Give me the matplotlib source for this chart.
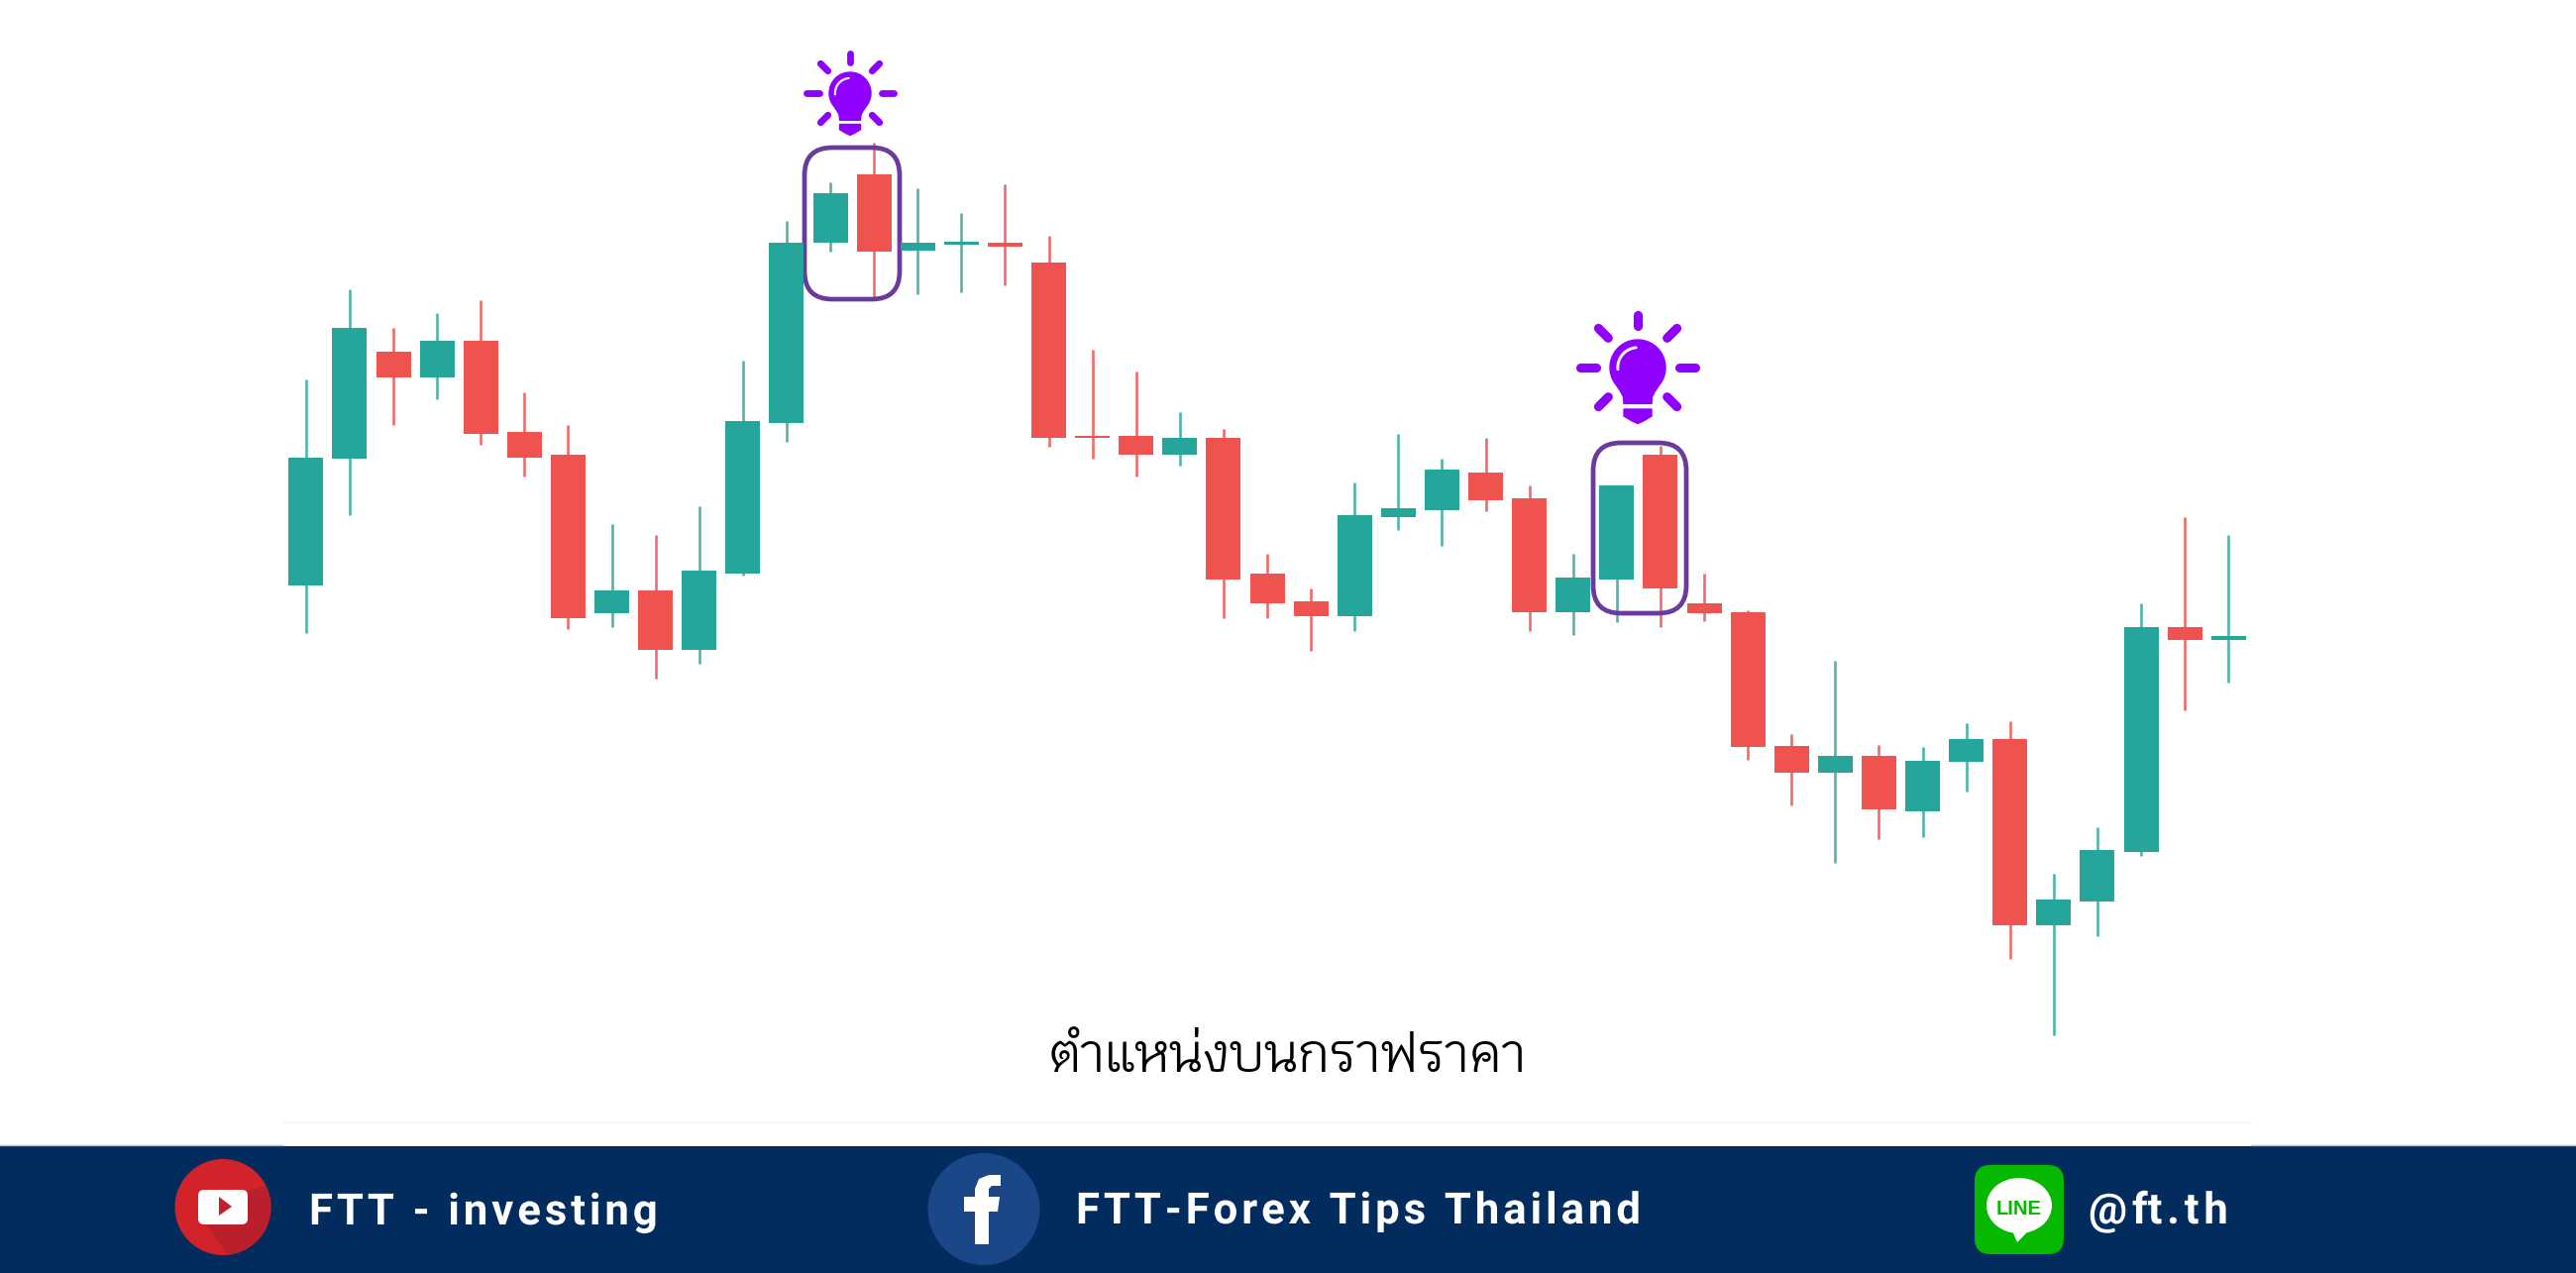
import numpy as np
import matplotlib
matplotlib.use("Agg")
import matplotlib.pyplot as plt
from matplotlib.patches import FancyBboxPatch, Circle, Ellipse, Polygon
from matplotlib.patheffects import AbstractPathEffect
from matplotlib.path import Path

H = 1285
y_body_top = [461.5,331.4,355,344.4,344.4,435.5,459,596,596,576.4,425,244.7,195,175.7,244.7,244,244.7,264.6,
              439.7,440,442,442,578.7,606.7,520,513,474,477,503,583,490,459,609,618,752.5,763,763,767.5,745.7,
              745.7,908,858,633,633,642]
y_body_low = [591,463,381,381,437.6,461.5,624,619,656,656,578.6,427,244.7,253.8,253,247,249,442,
              442.3,459,459,585,609,622,622,522,515,505,618,618,585,594,619,753.6,780,780,817,818.6,769,
              933.6,933.6,909.6,860,645.7,645.7]
y_high = [383.4,292,331,316,303,396.4,429,529,539.5,511,364,223,184,143.6,190,215,186,238,
          353,375,416,433,559,594,487,438,463,442,490,559,490,450,579,616,741,667,752,754,730,
          728,882,834.6,609,522,540]
y_low = [639,520,429,403,448.5,481,635,633,685,670,581,446,254,303,297,294.5,288,450.6,
         463,481,470,624,624,657,637,535,551,516,637,641,628,633,627,767,812.5,871,847,845,799,
         968,1044.6,944.6,864,717,688.6]
direction = ["U","U","D","U","D","D","D","U","D","U","U","U","U","D","U","U","D","D",
             "D","D","U","D","D","D","U","U","U","D","D","U","U","D","D","D","D","U","D","U","U",
             "D","U","U","U","D","U"]
caption = "ตำแหน่งบนกราฟราคา"
labels = ["FTT - investing", "FTT-Forex Tips Thailand", "@ft.th"]

GREEN, RED = "#26A69A", "#EF5350"
NAVY = "#022B5E"

fig = plt.figure(figsize=(26, 12.85), dpi=100, facecolor="white")
ax = fig.add_axes([0, 0, 1, 1])          # pixel-like overlay
ax.set_xlim(0, 2600); ax.set_ylim(H, 0); ax.axis("off")
cx = fig.add_axes([0, 0, 1, 1])          # candles: index / price
cx.patch.set_alpha(0); cx.axis("off")
X0, DX = 308.8, 44.1
cx.set_xlim(-X0 / DX, (2600 - X0) / DX); cx.set_ylim(0, H)

idx = np.arange(len(y_high))
price = lambda a: H - np.asarray(a, float)
cols = [GREEN if c == "U" else RED for c in direction]
wick_cols = ["#4FB5AB" if c == "U" else "#F06C68" for c in direction]
cx.vlines(idx, price(y_low), price(y_high), colors=wick_cols, lw=1.9, zorder=3)
cx.bar(idx, price(y_body_top) - price(y_body_low), bottom=price(y_body_low), width=35/DX,
       color=cols, linewidth=0, zorder=4)

# highlight boxes
PURPLE = "#6A3A9C"
for (x0, y0, x1, y1) in [(812, 149, 908, 302), (1608, 447, 1702, 619)]:
    cx.add_patch(FancyBboxPatch((x0, y0), x1 - x0, y1 - y0, boxstyle="round,pad=0,rounding_size=28",
                                fc="none", ec=PURPLE, lw=3.4, transform=ax.transData, zorder=3.5))

# bulbs
VIOLET = "#8F00FF"
def bulb(xc, yc, s):
    th = np.radians(np.linspace(-220, 40, 70))
    pts = list(zip(np.cos(th), np.sin(th)))
    pts += [(0.62, 0.86), (0.52, 1.05), (0.5, 1.3), (-0.5, 1.3), (-0.52, 1.05), (-0.62, 0.86)]
    ax.add_patch(Polygon([(xc + a*s, yc + b*s) for a, b in pts], fc=VIOLET, ec=VIOLET, lw=1, zorder=6))
    base = [(-.5,1.5),(.5,1.5),(.5,1.75),(.2,1.93),(0,2.02),(-.2,1.93),(-.5,1.75)]
    ax.add_patch(Polygon([(xc + a*s, yc + b*s) for a, b in base], fc=VIOLET, ec=VIOLET, lw=1, zorder=6))
    a = np.radians(np.linspace(175, 265, 30))
    ax.plot(xc + .72*s*np.cos(a), yc + .72*s*np.sin(a), color="white", lw=s*0.075, zorder=7, solid_capstyle="round")
    for deg, rout in [(0,2.08),(45,2.0),(90,1.9),(135,2.0),(180,2.08),(225,2.0),(315,2.0)]:
        t = np.radians(deg)
        ax.plot([xc + 1.5*s*np.cos(t), xc + rout*s*np.cos(t)], [yc - 1.5*s*np.sin(t), yc - rout*s*np.sin(t)],
                color=VIOLET, lw=s*0.235, solid_capstyle="round", zorder=6)
bulb(858, 94, 21)
bulb(1653, 371, 28)

ax.text(1299, 1082, caption, fontsize=38, family=["Krub", "Loma", "DejaVu Sans"], weight="normal",
        ha="center", va="baseline", color="black")

# footer
ax.add_patch(plt.Rectangle((0, 1157), 2600, 128, fc=NAVY, ec="none", zorder=1))
ax.plot([286, 2272], [1133, 1133], color="#F5F7F7", lw=1.5)
ax.plot([0, 286], [1156, 1156], color="#B5BCC8", lw=1)
ax.plot([2272, 2600], [1156, 1156], color="#B5BCC8", lw=1)

class Tracking(AbstractPathEffect):
    """Letter-spacing for a whole text string: shifts glyph outlines apart."""
    def __init__(self, px):
        super().__init__((0, 0))
        self.px = px
    def draw_path(self, renderer, gc, tpath, affine, rgbFace=None):
        v, c = tpath.vertices, tpath.codes
        starts = list(np.where(c == Path.MOVETO)[0]) + [len(v)]
        cont = [(v[a:b, 0].min(), v[a:b, 0].max(), a, b) for a, b in zip(starts, starts[1:])]
        cont.sort()
        scale = affine.get_matrix()[0, 0]
        em = 43 / scale
        v2 = v.copy()
        shift = 0.0; cur = -1e18
        for x0, x1, a, b in cont:
            if x0 > cur:
                shift += self.px / scale
                if x0 - cur > 0.22 * em and cur > -1e17:
                    shift += self.px / scale
            cur = max(cur, x1)
            v2[a:b, 0] += shift - self.px / scale
        renderer.draw_path(gc, Path(v2, c), affine, rgbFace)

txt = dict(color="white", family="Roboto", weight="bold", fontsize=31.5, va="baseline", ha="left", zorder=5)
ax.text(312, 1236, labels[0], path_effects=[Tracking(3.9)], **txt)
ax.text(1086, 1235, labels[1], path_effects=[Tracking(3.9)], **txt)
ax.text(2108, 1235, labels[2], path_effects=[Tracking(4.8)], **txt)

# youtube
yt = Circle((225, 1218.5), 48.5, fc="#D3232A", ec="none", zorder=3)
ax.add_patch(yt)
dark = Polygon([(207,1235),(232,1270),(285,1245),(275,1195),(250,1202)], fc="#B9202C", ec="none", zorder=3.2)
ax.add_patch(dark); dark.set_clip_path(yt)
ax.add_patch(FancyBboxPatch((200, 1201), 50, 35, boxstyle="round,pad=0,rounding_size=6", fc="white", ec="none", zorder=4))
ax.add_patch(Polygon([(221,1208),(234,1218),(221,1227)], fc="#C0202C", ec="none", zorder=5))
# facebook
ax.add_patch(Circle((993, 1220.5), 56.5, fc="#1B4688", ec="none", zorder=3))
ax.add_patch(Polygon([(984,1256),(998,1256),(998,1223),(1007,1223),(1009,1208),(998,1208),(998,1200),(1001,1197),
                      (1010,1197),(1010,1186),(998,1186),(988,1190),(984,1200),(984,1208),(973,1208),(973,1223),(984,1223)],
                     fc="white", ec="none", zorder=4))
# line
ax.add_patch(FancyBboxPatch((1993, 1176), 90, 90, boxstyle="round,pad=0,rounding_size=16", fc="#06B800", ec="none", zorder=3))
ax.add_patch(Ellipse((2038, 1217), 66, 56, fc="white", ec="none", zorder=4))
ax.add_patch(Polygon([(2030,1240),(2036,1254),(2050,1240)], fc="white", ec="none", zorder=4))
ax.text(2038, 1226, "LINE", color="#06B800", family="Liberation Sans", weight="bold", fontsize=14.5,
        ha="center", va="baseline", zorder=5)

fig.savefig("out.png", dpi=100, facecolor="white")
